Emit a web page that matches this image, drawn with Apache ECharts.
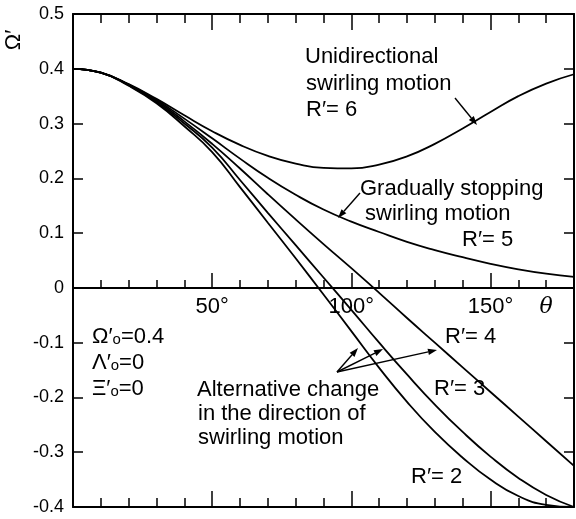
<!DOCTYPE html>
<html><head><meta charset="utf-8">
<script src="https://cdn.jsdelivr.net/npm/echarts@6/dist/echarts.min.js"></script>
<style>html,body{margin:0;padding:0;background:#fff}#c{width:576px;height:519px}</style>
</head><body><div id="c"></div>
<script>
// ---- data ----
const theta   = [0, 10, 20, 30, 40, 50, 60, 70, 80, 90, 100, 110, 120, 130, 140, 150, 160, 170, 180];
const omegaR2 = [0.400, 0.393, 0.369, 0.337, 0.295, 0.248, 0.184, 0.119, 0.054, -0.012, -0.079, -0.146, -0.208, -0.263, -0.310, -0.350, -0.380, -0.396, -0.400];
const omegaR3 = [0.400, 0.393, 0.370, 0.339, 0.300, 0.256, 0.197, 0.137, 0.078, 0.019, -0.040, -0.100, -0.158, -0.213, -0.263, -0.308, -0.347, -0.378, -0.400];
const omegaR4 = [0.400, 0.393, 0.371, 0.341, 0.304, 0.263, 0.218, 0.171, 0.125, 0.080, 0.036, -0.009, -0.055, -0.100, -0.145, -0.190, -0.235, -0.280, -0.325];
const omegaR5 = [0.400, 0.393, 0.371, 0.343, 0.309, 0.273, 0.236, 0.201, 0.170, 0.143, 0.121, 0.102, 0.084, 0.069, 0.056, 0.044, 0.034, 0.026, 0.020];
const omegaR6 = [0.400, 0.393, 0.372, 0.345, 0.315, 0.286, 0.261, 0.241, 0.227, 0.219, 0.218, 0.225, 0.240, 0.263, 0.291, 0.321, 0.350, 0.373, 0.390];
const seriesNames = ["R'=2", "R'=3", "R'=4", "R'=5", "R'=6"];
const xLabelValues = [50, 100, 150];
const xSymbolValue = 170;
const xSymbol = 'θ';
const yMin = -0.4, yMax = 0.5, yStep = 0.1;
const xMin = 0, xMax = 180, xMinorStep = 10, xMajorStep = 50;

const FONT = "'Liberation Sans', 'DejaVu Sans', sans-serif";
const W = 576, H = 519;
const GRID = {left: 73, right: 2, top: 14, bottom: 12};
const gridH = H - GRID.top - GRID.bottom;
// the labelled theta axis sits on the Omega' = 0 line
const zeroOffset = -gridH * (0 - yMin) / (yMax - yMin);

const chart = echarts.init(document.getElementById('c'));

function xAx(position, step, tickLen, showLine, offset, labelFormatter) {
  return {
    type: 'value', min: xMin, max: xMax, interval: step, position: position, offset: offset,
    splitLine: {show: false},
    axisLine: {show: showLine, onZero: false, lineStyle: {color: '#000', width: 2}},
    axisTick: {show: true, inside: true, length: tickLen, lineStyle: {color: '#000', width: 1.5}},
    axisLabel: {show: true, margin: 8, fontSize: 22, fontFamily: FONT, color: '#000',
      formatter: labelFormatter || function () { return ''; },
      rich: {t: {fontSize: 22, fontStyle: 'italic', fontFamily: "'DejaVu Serif', serif", color: '#000'}}}
  };
}
const zeroLabels = function (v) {
  if (xLabelValues.indexOf(v) >= 0) return v + '°';
  if (v === xSymbolValue) return '{t|' + xSymbol + '}';
  return '';
};

const xAxes = [
  xAx('bottom', xMinorStep, 9, true, 0),
  xAx('bottom', xMajorStep, 16, false, 0),
  xAx('top', xMinorStep, 9, true, 0),
  xAx('top', xMajorStep, 16, false, 0),
  xAx('bottom', xMinorStep, 8, true, zeroOffset, zeroLabels),
  xAx('bottom', xMajorStep, 15, false, zeroOffset)
];

function yAx(position, showLabels) {
  return {type: 'value', position: position, min: yMin, max: yMax, interval: yStep,
    splitLine: {show: false},
    axisLine: {show: true, onZero: false, lineStyle: {color: '#000', width: 2}},
    axisTick: {show: true, inside: true, length: 10, lineStyle: {color: '#000', width: 1.5}},
    axisLabel: {show: true, margin: 9, fontSize: 18, fontFamily: FONT, color: '#000',
      formatter: showLabels ? function (v) { return Math.abs(v) < 1e-9 ? '0' : v.toFixed(1); } : function () { return ''; }}};
}
const yAxes = [yAx('left', true), yAx('right', false)];

const allSeries = [omegaR2, omegaR3, omegaR4, omegaR5, omegaR6].map(function (vals, i) {
  return {
    name: seriesNames[i], type: 'line', xAxisIndex: 0, yAxisIndex: 0,
    data: theta.map(function (t, k) { return [t, vals[k]]; }),
    showSymbol: false, smooth: true, clip: true,
    lineStyle: {color: '#000', width: 1.8}
  };
});

function arrow(x1, y1, x2, y2) {
  const a = Math.atan2(y2 - y1, x2 - x1), L = 9, Wd = 3.2;
  const bx = x2 - L * Math.cos(a), by = y2 - L * Math.sin(a);
  const px = -Math.sin(a) * Wd, py = Math.cos(a) * Wd;
  return [
    {type: 'line', z: 100, shape: {x1: x1, y1: y1, x2: bx, y2: by}, style: {stroke: '#000', lineWidth: 1.4}},
    {type: 'polygon', z: 100, shape: {points: [[x2, y2], [bx + px, by + py], [bx - px, by - py]]}, style: {fill: '#000'}}
  ];
}
function txt(s, x, y, size, rot) {
  const el = {type: 'text', z: 100, x: x, y: y,
    style: {text: s, fill: '#000', font: (size || 22) + 'px ' + FONT,
      textAlign: rot ? 'center' : 'left', textVerticalAlign: 'middle'}};
  if (rot) el.rotation = rot;
  return el;
}

const graphics = [].concat(
  [txt('Ω′', 14, 40, 22, Math.PI / 2)],
  [txt('Unidirectional', 305, 57), txt('swirling motion', 306, 84), txt('R′= 6', 306, 110)],
  [txt('Gradually stopping', 360, 189), txt('swirling motion', 365, 214), txt('R′= 5', 462, 240)],
  [txt('R′= 4', 445, 337), txt('R′= 3', 434, 389), txt('R′= 2', 411, 477)],
  [txt('Alternative change', 197, 390), txt('in the direction of', 198, 414), txt('swirling motion', 198, 438)],
  [txt('Ω′ₒ=0.4', 92, 337), txt('Λ′ₒ=0', 92, 363), txt('Ξ′ₒ=0', 92, 389)],
  arrow(455, 98, 477, 125),
  arrow(360, 193, 338, 218),
  arrow(337, 372, 358, 348),
  arrow(337, 372, 383, 349),
  arrow(337, 372, 437, 350)
);

chart.setOption({
  animation: false,
  backgroundColor: '#fff',
  grid: {left: GRID.left, right: GRID.right, top: GRID.top, bottom: GRID.bottom, containLabel: false, outerBoundsMode: 'none'},
  xAxis: xAxes,
  yAxis: yAxes,
  series: allSeries,
  graphic: {elements: graphics}
});
</script>
</body></html>
